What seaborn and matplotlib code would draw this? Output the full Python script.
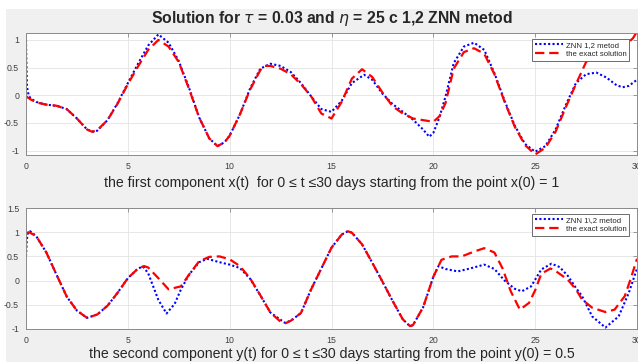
import numpy as np
import pandas as pd
import matplotlib
matplotlib.use("Agg")
import matplotlib.pyplot as plt
from matplotlib.patches import Rectangle
import seaborn as sns

# -----------------------------------------------------------
# DATA
# -----------------------------------------------------------
# first component x(t): ZNN 1,2 method
t_znn_x = [0, 0.02, 0.05, 0.1, 0.15, 0.25, 0.5, 1.0, 1.5, 2.0, 2.5, 3.0, 3.3, 3.5,
           4.0, 4.5, 5.0, 5.5, 6.0, 6.5, 7.0, 7.5, 8.0, 8.5, 9.0, 9.4, 9.75, 10.0,
           10.5, 11.0, 11.5, 12.0, 12.5, 13.0, 13.5, 14.0, 14.5, 15.0, 15.5, 16.0,
           16.6, 17.0, 17.5, 18.0, 18.5, 19.0, 19.5, 19.8, 20.0, 20.3, 20.6, 21.0,
           21.5, 22.0, 22.5, 23.0, 23.5, 24.0, 24.5, 25.0, 25.5, 26.0, 26.5, 27.0,
           27.5, 28.0, 28.5, 29.0, 29.3, 29.6, 30.0]
x_znn = [1.0, 0.55, 0.15, 0.05, -0.02, -0.06, -0.12, -0.17, -0.19, -0.25, -0.42,
         -0.62, -0.66, -0.64, -0.45, -0.14, 0.22, 0.57, 0.90, 1.10, 0.95, 0.62,
         0.14, -0.40, -0.78, -0.92, -0.85, -0.73, -0.35, 0.12, 0.48, 0.57, 0.53,
         0.42, 0.22, -0.02, -0.25, -0.30, -0.10, 0.22, 0.37, 0.28, 0.03, -0.16,
         -0.30, -0.44, -0.62, -0.75, -0.68, -0.40, -0.02, 0.58, 0.88, 0.95, 0.82,
         0.40, -0.10, -0.55, -0.88, -1.02, -0.92, -0.62, -0.18, 0.22, 0.38, 0.41,
         0.32, 0.18, 0.145, 0.17, 0.28]

# first component x(t): exact solution
t_ex_x = [0, 0.25, 0.5, 1.0, 1.5, 2.0, 2.5, 3.0, 3.25, 3.5, 4.0, 4.5, 5.0, 5.5,
          6.0, 6.5, 7.0, 7.5, 8.0, 8.5, 9.0, 9.4, 9.75, 10.0, 10.5, 11.0, 11.5,
          11.7, 12.0, 12.5, 13.0, 13.5, 14.0, 14.5, 15.0, 15.5, 16.0, 16.5, 17.0,
          17.5, 18.0, 18.5, 19.0, 19.5, 20.0, 20.3, 20.6, 21.0, 21.5, 22.0, 22.5,
          23.0, 23.5, 24.0, 24.5, 25.0, 25.5, 26.0, 26.5, 27.0, 27.5, 28.0, 28.5,
          29.0, 29.5, 29.8, 30.0]
x_exact = [-0.02, -0.08, -0.13, -0.17, -0.19, -0.25, -0.42, -0.62, -0.66, -0.63,
           -0.45, -0.15, 0.20, 0.52, 0.82, 1.0, 0.88, 0.60, 0.12, -0.40, -0.78,
           -0.92, -0.85, -0.73, -0.35, 0.10, 0.45, 0.53, 0.53, 0.48, 0.38, 0.20,
           -0.02, -0.33, -0.42, -0.12, 0.30, 0.47, 0.33, 0.05, -0.20, -0.33, -0.42,
           -0.45, -0.48, -0.38, -0.14, 0.48, 0.78, 0.85, 0.75, 0.38, -0.12, -0.57,
           -0.90, -1.07, -0.95, -0.66, -0.22, 0.20, 0.60, 0.75, 0.80, 0.85, 0.93,
           1.03, 1.15]

# second component y(t): ZNN 1\,2 method
t_znn_y = [0, 0.04, 0.1, 0.2, 0.5, 1.0, 1.5, 2.0, 2.5, 3.0, 3.5, 4.0, 4.5, 5.0,
           5.5, 5.75, 6.0, 6.5, 6.9, 7.3, 7.6, 8.0, 8.5, 8.9, 9.5, 10.0, 10.5,
           11.0, 11.5, 12.0, 12.7, 13.0, 13.5, 14.0, 14.5, 15.0, 15.5, 15.8, 16.0,
           16.5, 17.0, 17.5, 18.0, 18.5, 18.85, 19.0, 19.5, 20.0, 20.25, 20.6,
           21.2, 21.8, 22.5, 23.0, 23.5, 24.0, 24.35, 24.8, 25.3, 25.8, 26.2, 26.6,
           27.0, 27.3, 27.8, 28.45, 29.1, 29.6, 30.0]
y_znn = [0.5, 0.85, 1.0, 1.02, 0.92, 0.58, 0.12, -0.33, -0.62, -0.77, -0.70,
         -0.52, -0.25, 0.05, 0.25, 0.29, 0.15, -0.40, -0.68, -0.48, -0.19, 0.12,
         0.38, 0.45, 0.38, 0.33, 0.26, 0.04, -0.30, -0.66, -0.87, -0.83, -0.67,
         -0.18, 0.25, 0.68, 0.95, 1.02, 0.99, 0.75, 0.37, -0.02, -0.42, -0.80,
         -0.94, -0.92, -0.55, 0.08, 0.30, 0.24, 0.19, 0.25, 0.33, 0.24, 0.0,
         -0.17, -0.22, -0.12, 0.23, 0.35, 0.28, 0.10, -0.15, -0.32, -0.74, -0.97,
         -0.74, -0.25, 0.25]

# second component y(t): exact solution
t_ex_y = [0, 0.15, 0.5, 1.0, 1.5, 2.0, 2.5, 3.0, 3.5, 4.0, 4.5, 5.0, 5.5, 5.8,
          6.0, 6.5, 7.0, 7.6, 8.0, 8.5, 9.0, 9.5, 10.0, 10.5, 11.0, 11.5, 12.0,
          12.5, 12.75, 13.0, 13.5, 14.0, 14.5, 15.0, 15.5, 15.8, 16.0, 16.5, 17.0,
          17.5, 18.0, 18.5, 18.85, 19.0, 19.5, 20.0, 20.4, 20.9, 21.4, 22.0, 22.5,
          23.0, 23.4, 23.8, 24.25, 24.7, 25.0, 25.3, 25.75, 26.0, 26.6, 27.0,
          27.3, 27.8, 28.45, 28.9, 29.4, 29.7, 30.0]
y_exact = [0.98, 1.0, 0.92, 0.58, 0.12, -0.33, -0.62, -0.77, -0.70, -0.52, -0.25,
           0.05, 0.25, 0.30, 0.27, 0.05, -0.18, -0.12, 0.12, 0.40, 0.49, 0.50,
           0.44, 0.30, 0.05, -0.30, -0.66, -0.85, -0.88, -0.83, -0.67, -0.18, 0.25,
           0.68, 0.95, 1.02, 0.99, 0.75, 0.37, -0.02, -0.42, -0.80, -0.94, -0.92,
           -0.55, 0.08, 0.43, 0.50, 0.50, 0.60, 0.67, 0.58, 0.25, -0.22, -0.60,
           -0.46, -0.20, 0.14, 0.25, 0.20, 0.02, -0.18, -0.39, -0.56, -0.65, -0.60,
           -0.32, 0.05, 0.45]

# -----------------------------------------------------------
# STYLE
# -----------------------------------------------------------
sns.set_style("whitegrid")
plt.rcParams["font.family"] = ["Liberation Sans", "DejaVu Sans"]

W, H = 638, 362
fig = plt.figure(figsize=(W / 100, H / 100), dpi=100, facecolor="white")
fig.add_artist(Rectangle((6 / W, 0), 1, 1 - 9 / H, transform=fig.transFigure,
                         facecolor="#f0f0f0", edgecolor="none", zorder=-10))

ax1 = fig.add_axes([26 / W, (H - 155) / H, 611 / W, 121.7 / H])
ax2 = fig.add_axes([26 / W, (H - 329) / H, 611 / W, 121 / H])


def draw(ax, t_z, v_z, t_e, v_e, znn_label, ylim, yticks, leg_top):
    sns.lineplot(x=t_z, y=v_z, ax=ax, color="#0000ff", linestyle=(0, (1, 1.1)),
                 linewidth=1.5, label=znn_label)
    sns.lineplot(x=t_e, y=v_e, ax=ax, color="#ff0000", linestyle=(0, (4.2, 2.2)),
                 linewidth=1.6, label="the exact solution")
    ax.set_xlim(0, 30)
    ax.set_ylim(*ylim)
    ax.set_xticks([0, 5, 10, 15, 20, 25, 30])
    ax.set_yticks(yticks)
    ax.set_yticklabels([f"{v:g}" for v in yticks])
    ax.set_facecolor("white")
    ax.grid(True, color="#e3e3e3", linewidth=0.6)
    for s in ax.spines.values():
        s.set_color("#8a8a8a")
        s.set_linewidth(0.7)
    ax.tick_params(direction="in", length=3, width=0.6, color="#8a8a8a",
                   labelsize=6.3, labelcolor="#404040", pad=5,
                   top=True, right=True)
    ax.set_ylabel("")
    leg = ax.legend(loc="upper right", bbox_to_anchor=(629 / W, 1 - leg_top / H),
                    bbox_transform=fig.transFigure, fontsize=5.6, frameon=True,
                    fancybox=False, framealpha=1, edgecolor="#555555",
                    handlelength=3.6, handletextpad=0.3, borderpad=0.35,
                    labelspacing=0.2, borderaxespad=0)
    leg.get_frame().set_linewidth(0.6)


draw(ax1, t_znn_x, x_znn, t_ex_x, x_exact, "ZNN 1,2 metod",
     (-1.08, 1.12), [-1, -0.5, 0, 0.5, 1], 39)
draw(ax2, t_znn_y, y_znn, t_ex_y, y_exact, "ZNN 1\\,2 metod",
     (-1, 1.5), [-1, -0.5, 0, 0.5, 1, 1.5], 214)

ax1.set_xlabel("the first component x(t)  for 0 \u2264 t \u226430 days starting from the point x(0) = 1",
               fontsize=10.2, labelpad=4)
ax2.set_xlabel("the second component y(t) for 0 \u2264 t \u226430 days starting from the point y(0) = 0.5",
               fontsize=10.2, labelpad=1.5)

fig.text(331.5 / W, 1 - 19 / H,
         r"Solution for $\tau$ = 0.03 and $\eta$ = 25 c 1,2 ZNN metod",
         ha="center", va="center", fontsize=11.3, fontweight="bold")

fig.savefig("out.png", dpi=100, facecolor=fig.get_facecolor())
